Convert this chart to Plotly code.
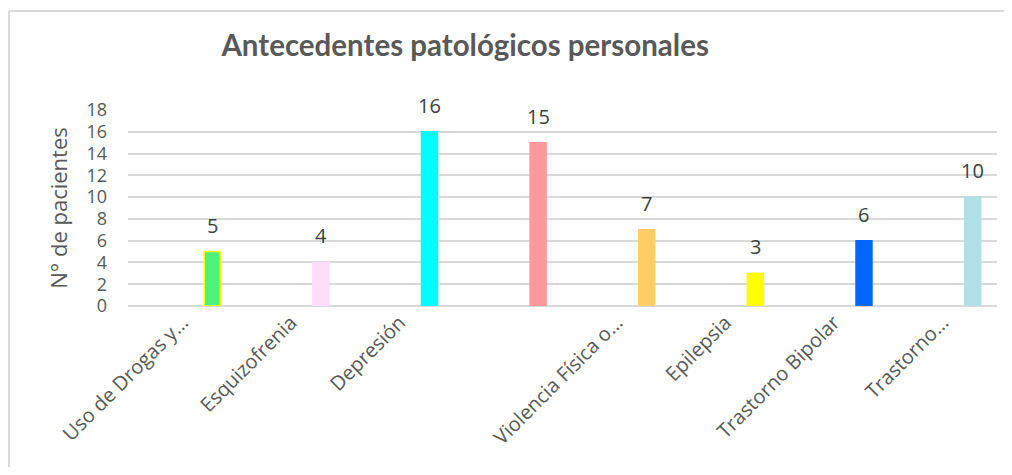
import plotly.graph_objects as go

categories = ["Uso de Drogas y…", "Esquizofrenia", "Depresión", "",
              "Violencia Física o…", "Epilepsia", "Trastorno Bipolar", "Trastorno…"]
values = [5, 4, 16, 15, 7, 3, 6, 10]
colors = ["#4FF27A", "#FDDDFA", "#00FFFF", "#FF9999",
          "#FFCC66", "#FFFF00", "#0066FF", "#B0E0E6"]
line_colors = ["#FFFF00", "#FDDDFA", "#00FFFF", "#FF9999",
               "#FFCC66", "#FFFF00", "#0066FF", "#B0E0E6"]
y_ticks = [0, 2, 4, 6, 8, 10, 12, 14, 16, 18]

pos = list(range(len(values)))
bar_offset = 0.202
bar_width = 0.147

fig = go.Figure()
fig.add_trace(go.Bar(
    x=pos, y=values,
    marker=dict(color=colors, line=dict(color=line_colors, width=1.5)),
    offset=bar_offset, width=bar_width,
    hoverinfo="skip",
))

for p, v in zip(pos, values):
    fig.add_annotation(x=p + bar_offset + bar_width / 2, y=v, text=str(v),
                       showarrow=False, yanchor="bottom", yshift=11,
                       font=dict(family="Open Sans", size=20, color="#404040"))

# chart frame (top and left edges visible in the reference)
fig.add_shape(type="line", xref="paper", yref="paper",
              x0=-0.1370, x1=1.2, y0=1.505, y1=1.505,
              line=dict(color="#D9D9D9", width=2), layer="below")
fig.add_shape(type="line", xref="paper", yref="paper",
              x0=-0.1370, x1=-0.1370, y0=1.505, y1=-1.2,
              line=dict(color="#D9D9D9", width=2), layer="below")

fig.update_layout(
    width=996, height=459,
    margin=dict(l=120, r=7, t=102, b=161),
    paper_bgcolor="white", plot_bgcolor="white",
    showlegend=False,
    title=dict(text="<b>Antecedentes patológicos personales</b>",
               x=0.459, xanchor="center", xref="container",
               y=0.917, yanchor="middle", yref="container",
               font=dict(family="Lato", size=29.5, color="#595959")),
    xaxis=dict(range=[-0.5, 7.5], tickvals=pos, ticktext=categories,
               tickangle=-45, showgrid=False, zeroline=False,
               showline=False, ticks="",
               tickfont=dict(family="Open Sans", size=20, color="#595959")),
    yaxis=dict(range=[0, 18], tickvals=y_ticks, showgrid=True,
               gridcolor="#D9D9D9", gridwidth=1.5, zeroline=True,
               zerolinecolor="#D9D9D9", zerolinewidth=1.5,
               ticks="", ticklabelstandoff=20,
               tickfont=dict(family="Open Sans", size=18, color="#595959"),
               title=dict(text="N° de pacientes", standoff=12,
                          font=dict(family="Open Sans", size=22, color="#595959"))),
)

fig.write_html("out.html")
